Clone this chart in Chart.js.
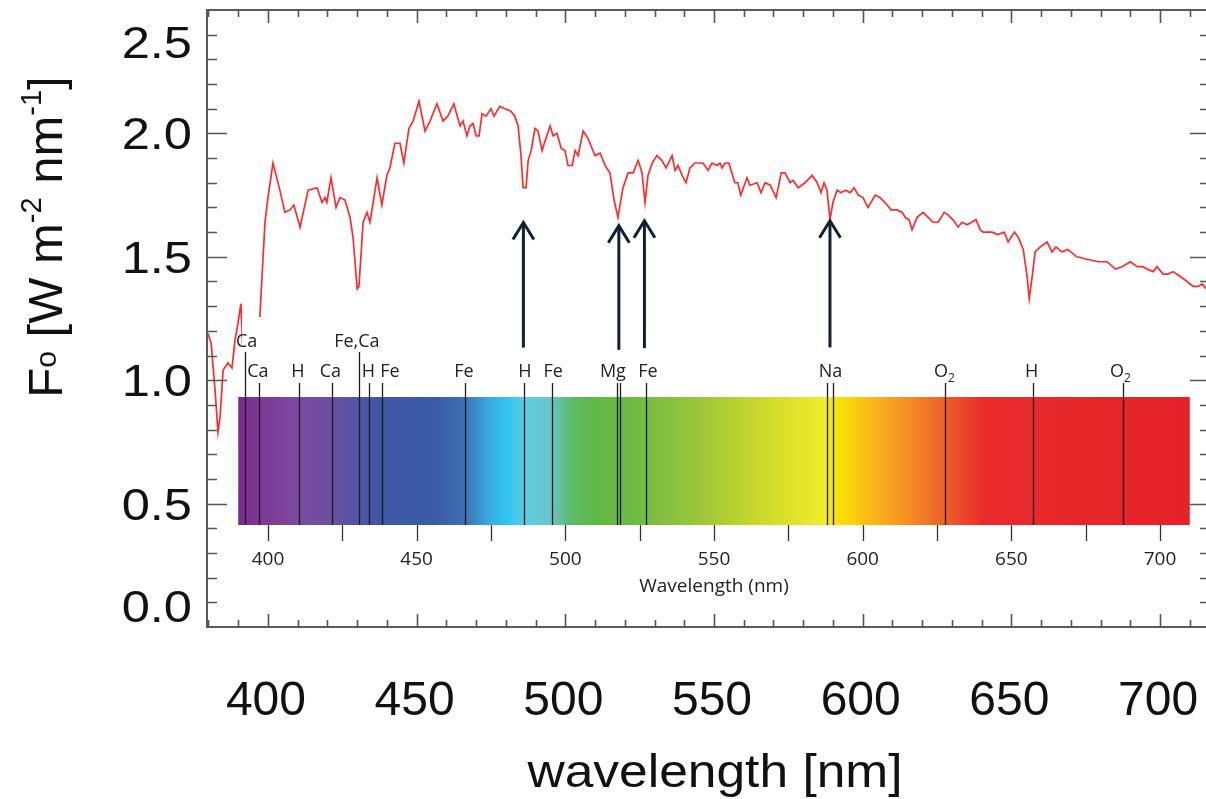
<!DOCTYPE html>
<html>
<head>
<meta charset="utf-8">
<script src="https://cdn.jsdelivr.net/npm/chart.js@4.4.1/dist/chart.umd.min.js"></script>
<style>
  html, body { margin: 0; padding: 0; background: #fff; overflow: hidden; }
</style>
</head>
<body>
<canvas id="spectrum" width="1214" height="799"></canvas>
<script>
// solar flux spectrum
var waveNm = [379.8, 380.9, 382.2, 383.2, 383.9, 384.9, 386.5, 387.9, 388.9, 389.9,
    390.9, 391.8, 393.3, 394.8, 396.6, 397.3, 398.0, 399.0, 400.0, 401.7,
    404.0, 405.7, 407.4, 408.7, 410.8, 413.5, 416.5, 418.2, 419.2, 419.8,
    421.2, 422.9, 424.2, 425.9, 427.6, 428.6, 430.0, 430.6, 432.0, 433.3,
    434.3, 436.7, 438.3, 440.0, 441.0, 442.7, 444.4, 445.7, 447.4, 448.8,
    450.8, 452.8, 454.5, 456.8, 458.9, 460.5, 462.5, 464.6, 465.6, 466.9,
    467.9, 469.0, 470.0, 471.0, 472.0, 473.3, 475.0, 476.0, 478.0, 479.7,
    481.7, 483.0, 484.1, 485.1, 485.8, 486.8, 487.5, 488.5, 489.8, 490.8,
    492.2, 493.2, 494.9, 495.9, 497.2, 498.6, 499.9, 500.9, 502.3, 503.3,
    504.3, 506.0, 507.6, 510.0, 511.7, 513.4, 515.0, 516.4, 517.7, 519.4,
    521.1, 522.8, 524.5, 525.8, 526.8, 527.8, 529.2, 530.8, 532.5, 533.9,
    535.9, 536.9, 537.9, 539.3, 540.6, 541.9, 543.6, 546.3, 548.0, 549.3,
    551.0, 552.0, 552.7, 553.7, 555.0, 557.0, 558.0, 559.0, 561.1, 562.1,
    564.5, 565.8, 567.2, 568.9, 570.9, 572.6, 573.9, 575.6, 576.6, 578.3,
    580.6, 583.0, 584.7, 586.0, 587.0, 588.0, 589.0, 590.0, 591.4, 592.7,
    594.1, 595.8, 597.1, 598.5, 600.1, 601.8, 604.2, 605.8, 607.5, 609.6,
    611.6, 613.3, 614.3, 615.6, 616.6, 618.3, 620.3, 622.0, 623.7, 625.4,
    627.4, 628.7, 630.4, 632.1, 633.4, 635.1, 638.1, 639.5, 640.5, 643.5,
    645.5, 647.6, 648.9, 651.0, 652.3, 654.0, 655.3, 656.0, 657.0, 658.0,
    659.7, 662.0, 663.7, 665.0, 667.0, 669.0, 672.0, 675.5, 679.2, 682.2,
    685.0, 687.2, 690.0, 692.3, 694.3, 695.7, 697.7, 699.0, 701.0, 702.7,
    704.4, 706.8, 709.1, 711.1, 712.8, 714.2, 715.5];
var flux = [1.19, 1.15, 0.96, 0.79, 0.85, 1.04, 1.07, 1.05, 1.16, 1.23,
    1.31, 1.05, 0.80, 1.02, 0.85, 1.26, 1.42, 1.64, 1.74, 1.88,
    1.77, 1.68, 1.69, 1.71, 1.62, 1.77, 1.78, 1.72, 1.74, 1.72,
    1.82, 1.70, 1.74, 1.73, 1.66, 1.58, 1.37, 1.38, 1.64, 1.68,
    1.64, 1.82, 1.71, 1.83, 1.86, 1.96, 1.96, 1.88, 2.02, 2.05,
    2.13, 2.01, 2.05, 2.12, 2.05, 2.07, 2.12, 2.03, 2.05, 1.99,
    2.03, 2.04, 1.99, 1.99, 2.08, 2.07, 2.10, 2.07, 2.11, 2.10,
    2.09, 2.07, 2.03, 1.91, 1.78, 1.78, 1.89, 1.93, 2.02, 2.01,
    1.93, 1.97, 2.03, 1.99, 2.00, 1.94, 1.93, 1.87, 1.87, 1.93,
    1.91, 2.01, 1.98, 1.91, 1.92, 1.87, 1.84, 1.73, 1.66, 1.78,
    1.84, 1.84, 1.89, 1.84, 1.72, 1.83, 1.88, 1.91, 1.89, 1.86,
    1.91, 1.85, 1.87, 1.83, 1.80, 1.86, 1.88, 1.88, 1.85, 1.88,
    1.87, 1.88, 1.86, 1.88, 1.88, 1.80, 1.80, 1.75, 1.82, 1.79,
    1.80, 1.76, 1.80, 1.79, 1.74, 1.84, 1.84, 1.80, 1.81, 1.78,
    1.80, 1.83, 1.80, 1.76, 1.80, 1.77, 1.65, 1.72, 1.77, 1.76,
    1.77, 1.76, 1.78, 1.75, 1.74, 1.70, 1.75, 1.74, 1.72, 1.69,
    1.69, 1.68, 1.66, 1.65, 1.61, 1.66, 1.68, 1.66, 1.64, 1.64,
    1.68, 1.67, 1.65, 1.62, 1.64, 1.63, 1.65, 1.61, 1.60, 1.60,
    1.59, 1.60, 1.56, 1.60, 1.58, 1.53, 1.42, 1.33, 1.42, 1.52,
    1.54, 1.56, 1.52, 1.54, 1.52, 1.53, 1.50, 1.49, 1.48, 1.48,
    1.45, 1.46, 1.48, 1.46, 1.46, 1.45, 1.44, 1.46, 1.43, 1.43,
    1.44, 1.42, 1.40, 1.38, 1.38, 1.39, 1.37];

// outer axes
var xTicks = [400, 450, 500, 550, 600, 650, 700];
var yTicks = [0.0, 0.5, 1.0, 1.5, 2.0, 2.5];

// inset: absorption lines and their labels
var lineNm = [392.4, 397.1, 410.3, 421.5, 430.6, 434.1, 438.2, 466.3, 486.1, 495.5,
    517.3, 518.3, 527.1, 588.1, 590.1, 627.7, 657.4, 687.4];
var lineRow = [1, 2, 2, 2, 1, 2, 2, 2, 2, 2, 2, 2, 2, 2, 2, 2, 2, 2];
var labelText = ['Ca', 'Ca', 'H', 'Ca', 'Fe,Ca', 'H', 'Fe', 'Fe', 'H', 'Fe', 'Mg', 'Fe', 'Na', 'O2', 'H', 'O2'];
var labelNm = [392.8, 396.6, 410.1, 421.0, 429.9, 433.8, 441.0, 465.9, 486.4, 495.9, 516.0, 527.8, 589.2, 627.5, 656.8, 686.7];
var labelRow = [1, 2, 2, 2, 1, 2, 2, 2, 2, 2, 2, 2, 2, 2, 2, 2];
var insetTicks = [400, 425, 450, 475, 500, 525, 550, 575, 600, 625, 650, 675, 700];
var insetRange = [390, 710];

// arrows pointing at the dips
var arrowNm = [485.9, 518.0, 526.6, 589.0];
var arrowTip = [1.643, 1.630, 1.650, 1.650];
var arrowBase = [1.132, 1.123, 1.130, 1.133];

// colour stops of the rainbow bar
var barStopNm = [390, 397, 410, 421, 431, 439, 456, 466, 474, 480, 487, 495, 502, 510, 524, 545, 568, 587, 593, 604, 616, 629, 641, 710];
var barStopColor = ['#7a2a8c', '#7d3795', '#7b4a9e', '#6a50a0', '#4f55a5', '#3d56a5', '#3b5aa8', '#3e70b5',
    '#38a8e0', '#30c4f0', '#5ecbe2', '#6ac6c8', '#5dbb6a', '#5fb845', '#70bb42', '#9cc63a',
    '#cfdb2a', '#f2ec2a', '#fbdd05', '#f9b51a', '#f58b24', '#ec5a2a', '#e82c2a', '#e52229'];

function drawText(c, txt, x, y, sx) {
    c.save();
    c.translate(x, y);
    c.scale(sx, 1);
    c.fillText(txt, 0, 0);
    c.restore();
}

var overlay = {
    id: 'overlay',
    beforeDraw: function (chart) {
        var c = chart.ctx;
        c.save();
        c.fillStyle = '#fff';
        c.fillRect(0, 0, chart.width, chart.height);
        c.restore();
    },
    afterDatasetsDraw: function (chart) {
        var c = chart.ctx;
        var xs = chart.scales.x;
        var ys = chart.scales.y;
        var area = chart.chartArea;
        var X = function (v) { return xs.getPixelForValue(v); };
        var Y = function (v) { return ys.getPixelForValue(v); };

        c.save();

        // white panel of the inset covers the curve
        c.fillStyle = '#fff';
        c.fillRect(242, 317, 954, 290);

        // rainbow bar
        var bx0 = X(insetRange[0]), bx1 = X(insetRange[1]);
        var barTop = 397, barBot = 525;
        var grad = c.createLinearGradient(bx0, 0, bx1, 0);
        for (var i = 0; i < barStopNm.length; i++) {
            grad.addColorStop((barStopNm[i] - insetRange[0]) / (insetRange[1] - insetRange[0]), barStopColor[i]);
        }
        c.fillStyle = grad;
        c.fillRect(bx0, barTop, bx1 - bx0, barBot - barTop);

        // absorption lines
        c.strokeStyle = '#1c1c1c';
        c.lineWidth = 1.3;
        for (var i = 0; i < lineNm.length; i++) {
            var lx = Math.round(X(lineNm[i])) + 0.5;
            c.beginPath();
            c.moveTo(lx, lineRow[i] == 1 ? 352 : 383);
            c.lineTo(lx, barBot);
            c.stroke();
        }

        // line labels
        c.fillStyle = '#222';
        c.textBaseline = 'alphabetic';
        for (var i = 0; i < labelText.length; i++) {
            var ly = labelRow[i] == 1 ? 347 : 377;
            var t = labelText[i];
            var cx = X(labelNm[i]);
            if (t == 'O2') {
                c.font = '18px "Open Sans"';
                var w1 = c.measureText('O').width;
                c.font = '12px "Open Sans"';
                var w2 = c.measureText('2').width;
                c.textAlign = 'left';
                c.font = '18px "Open Sans"';
                c.fillText('O', cx - (w1 + w2) / 2, ly);
                c.font = '12px "Open Sans"';
                c.fillText('2', cx - (w1 + w2) / 2 + w1, ly + 5);
            } else {
                c.font = '18px "Open Sans"';
                c.textAlign = 'center';
                c.fillText(t, cx, ly);
            }
        }

        // inset wavelength axis
        c.strokeStyle = '#333';
        c.lineWidth = 1.3;
        c.font = '19px "Open Sans"';
        c.textAlign = 'center';
        for (var i = 0; i < insetTicks.length; i++) {
            var tx = Math.round(X(insetTicks[i])) + 0.5;
            c.beginPath();
            c.moveTo(tx, barBot);
            c.lineTo(tx, barBot + 16);
            c.stroke();
            if (insetTicks[i] % 50 == 0) {
                c.fillText(String(insetTicks[i]), X(insetTicks[i]), 565);
            }
        }
        c.fillText('Wavelength (nm)', X(550), 592);

        // arrows
        c.strokeStyle = '#10212f';
        c.lineWidth = 3;
        c.lineJoin = 'miter';
        for (var i = 0; i < arrowNm.length; i++) {
            var ax = X(arrowNm[i]), at = Y(arrowTip[i]), ab = Y(arrowBase[i]);
            c.beginPath();
            c.moveTo(ax, ab);
            c.lineTo(ax, at + 1);
            c.stroke();
            c.beginPath();
            c.moveTo(ax - 10.5, at + 18);
            c.lineTo(ax, at + 1);
            c.lineTo(ax + 10.5, at + 18);
            c.stroke();
        }

        // frame
        c.strokeStyle = '#5a5a5a';
        c.lineWidth = 2;
        c.strokeRect(area.left, area.top, area.right - area.left, area.bottom - area.top);

        // ticks, pointing inward
        c.lineWidth = 1.6;
        c.strokeStyle = '#555';
        for (var v = 380; v <= 716; v += 10) {
            var px = Math.round(X(v)) + 0.5;
            var major = v % 50 == 0;
            var len = major ? 13 : 7;
            c.beginPath();
            c.moveTo(px, area.top);
            c.lineTo(px, area.top + len);
            c.moveTo(px, area.bottom);
            c.lineTo(px, area.bottom - len);
            c.stroke();
        }
        for (var k = 1; k < 25; k++) {
            var py = Math.round(Y(k / 10)) + 0.5;
            var major = k % 5 == 0;
            var len = major ? 20 : 10;
            c.beginPath();
            c.moveTo(area.left, py);
            c.lineTo(area.left + len, py);
            c.moveTo(area.right, py);
            c.lineTo(area.right - len, py);
            c.stroke();
        }

        // tick labels
        c.fillStyle = '#111';
        c.font = '48px "Liberation Sans", Arial, sans-serif';
        c.textAlign = 'center';
        c.textBaseline = 'alphabetic';
        xTicks.forEach(function (v) {
            c.fillText(String(v), X(v) - 2, 715);
        });
        c.font = '44px "Liberation Sans", Arial, sans-serif';
        c.textAlign = 'right';
        yTicks.forEach(function (v) {
            var py = Y(v);
            if (v == 2.5) py += 32;
            if (v == 0) py -= 21;
            drawText(c, v.toFixed(1), 192, py + 16, 1.15);
        });

        // axis titles
        c.font = '46px "Liberation Sans", Arial, sans-serif';
        c.textAlign = 'center';
        drawText(c, 'wavelength [nm]', 715, 787, 1.12);

        c.translate(62, 237);
        c.rotate(-Math.PI / 2);
        var parts = [['F', 49, 0], ['o', 30, -6], [' [W m', 49, 0], ['-2', 29, -21], [' nm', 49, 0], ['-1', 29, -21], [']', 49, 0]];
        var total = 0;
        parts.forEach(function (p) {
            c.font = p[1] + 'px "Liberation Sans", Arial, sans-serif';
            total += c.measureText(p[0]).width;
        });
        var pos = -total / 2;
        c.textAlign = 'left';
        parts.forEach(function (p) {
            c.font = p[1] + 'px "Liberation Sans", Arial, sans-serif';
            c.fillText(p[0], pos, p[2]);
            pos += c.measureText(p[0]).width;
        });

        c.restore();
    }
};

var points = waveNm.map(function (w, i) { return { x: w, y: flux[i] }; });

var ctx = document.getElementById('spectrum').getContext('2d');
var fluxChart = new Chart(ctx, {
    type: 'line',
    data: {
        datasets: [{
            label: 'flux',
            data: points,
            borderColor: '#ff2b2b',
            borderWidth: 1.7,
            pointRadius: 0,
            tension: 0,
            fill: false
        }]
    },
    options: {
        responsive: false,
        animation: false,
        devicePixelRatio: 1,
        layout: { padding: { left: 207, top: 10, right: 4, bottom: 172 } },
        plugins: {
            legend: { display: false },
            tooltip: { enabled: false }
        },
        scales: {
            x: { type: 'linear', min: 379.5, max: 716.8, display: false },
            y: { min: 0, max: 2.5, display: false }
        }
    },
    plugins: [overlay]
});
</script>
</body>
</html>
